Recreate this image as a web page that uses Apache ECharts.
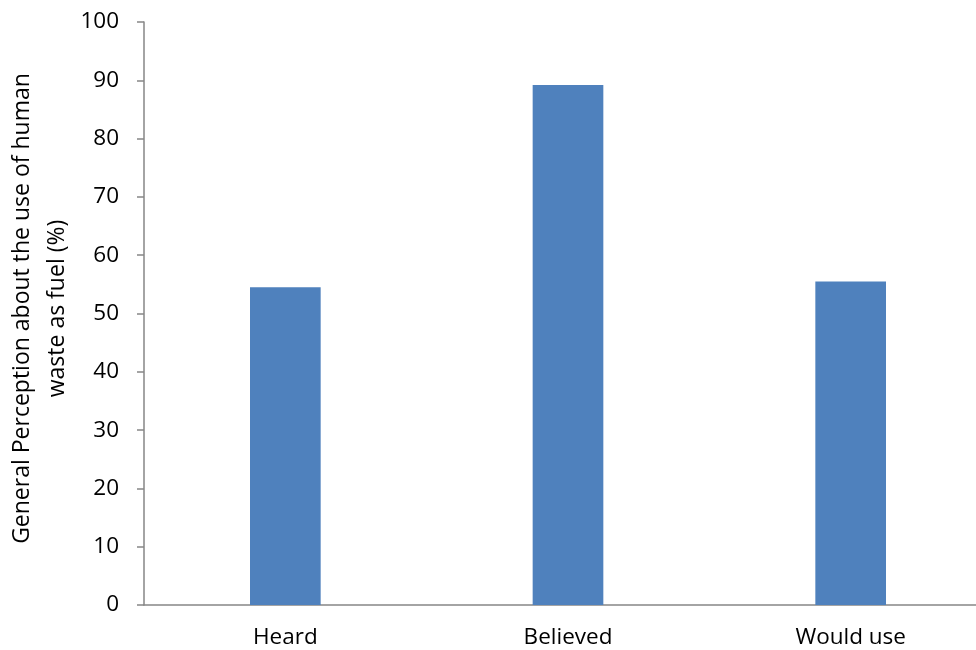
<!DOCTYPE html>
<html><head><meta charset="utf-8">
<script src="https://cdn.jsdelivr.net/npm/echarts@6/dist/echarts.min.js"></script>
<style>html,body{margin:0;padding:0;background:#fff}#c{width:976px;height:650px}</style>
</head><body><div id="c"></div>
<script>
const categories = ["Heard", "Believed", "Would use"];
const values = [54.5, 89.2, 55.5];
const yTicks = {min: 0, max: 100, interval: 10};
const yName = "General Perception about the use of human\nwaste as fuel (%)";

const FONT = "Open Sans";
const chart = echarts.init(document.getElementById('c'), null, {renderer: 'canvas'});
chart.setOption({
  animation: false,
  backgroundColor: '#ffffff',
  grid: {left: 144, top: 22, bottom: 45, right: -16, containLabel: false, outerBoundsMode: 'none'},
  xAxis: {
    type: 'category', data: categories,
    axisLine: {lineStyle: {color: '#868686', width: 1.5}},
    axisTick: {show: false},
    axisLabel: {color: '#000', fontFamily: FONT, fontSize: 22.5, margin: 21}
  },
  yAxis: {
    type: 'value', min: yTicks.min, max: yTicks.max, interval: yTicks.interval,
    name: yName, nameLocation: 'middle', nameGap: 69, nameRotate: 90, nameMoveOverlap: false,
    nameTextStyle: {color: '#000', fontFamily: FONT, fontSize: 23, lineHeight: 35, padding: [0, 0, 0, 10]},
    axisLine: {show: true, lineStyle: {color: '#868686', width: 1.5}},
    axisTick: {show: true, length: 7, lineStyle: {color: '#868686', width: 1.5}},
    splitLine: {show: false},
    axisLabel: {color: '#000', fontFamily: FONT, fontSize: 22.5, margin: 25}
  },
  series: [{
    type: 'bar', data: values, barWidth: '25%',
    itemStyle: {color: '#4F81BD'}
  }]
});
</script></body></html>
